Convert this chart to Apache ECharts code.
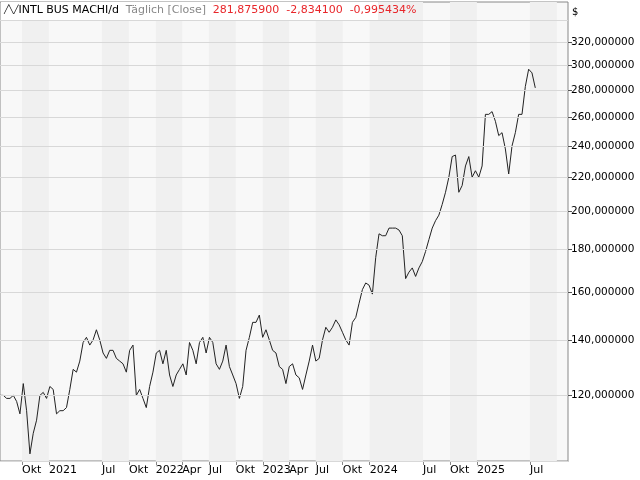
<!DOCTYPE html>
<html>
<head>
<meta charset="utf-8">
<script src="https://cdn.jsdelivr.net/npm/echarts@6/dist/echarts.min.js"></script>
<style>
  html, body { margin: 0; padding: 0; background: #fff; }
  #chart { width: 640px; height: 480px; }
</style>
</head>
<body>
<div id="chart"></div>
<script>
// Closing prices, one reading every ~11.35 days starting 2020-07-18
const START_DATE = '2020-07-18';
const STEP_DAYS = 11.35;
const closes = [
    120, 120, 119, 119, 120, 118, 114, 124, 115, 102,
    108, 112, 120, 121, 119, 123, 122, 114, 115, 115,
    116, 122, 129, 128, 132, 139, 141, 138, 140, 144,
    140, 135, 133, 136, 136, 133, 132, 131, 128, 136,
    138, 120, 122, 119, 116, 123, 128, 135, 136, 131,
    136, 127, 123, 127, 129, 131, 127, 139, 136, 131,
    139, 141, 135, 141, 139, 131, 129, 132, 138, 130,
    127, 124, 119, 123, 136, 141, 147, 147, 150, 141,
    144, 140, 136, 135, 130, 129, 124, 130, 131, 127,
    126, 122, 127, 132, 138, 132, 133, 140, 145, 143,
    145, 148,
    146, 143, 140, 138, 147, 149, 155, 161, 164, 163,
    159, 176, 188, 187, 187, 191, 191, 191, 190, 187,
    166, 169, 171, 167, 171, 174, 179, 185, 191, 195,
    198, 204, 211, 220, 233, 234, 211, 215, 227, 233,
    220, 224, 220, 227, 262, 262, 264, 257, 247, 249,
    238, 222, 240, 249, 262, 262, 283, 297, 294, 282
];

const xTickDates = ['2020-10-01', '2021-01-01', '2021-07-01', '2021-10-01', '2022-01-01', '2022-04-01',
    '2022-07-01', '2022-10-01', '2023-01-01', '2023-04-01', '2023-07-01', '2023-10-01',
    '2024-01-01', '2024-07-01', '2024-10-01', '2025-01-01', '2025-07-01'];
const xTickLabels = ['Okt', '2021', 'Jul', 'Okt', '2022', 'Apr', 'Jul', 'Okt', '2023', 'Apr',
    'Jul', 'Okt', '2024', 'Jul', 'Okt', '2025', 'Jul'];
const bandEndDate = '2025-10-01';
const yLabelValues = [120, 140, 160, 180, 200, 220, 240, 260, 280, 300, 320];
const yGridValues = [100, 120, 140, 160, 180, 200, 220, 240, 260, 280, 300, 320, 340];

const X_MIN = +new Date(START_DATE);
const X_MAX = +new Date('2025-11-08');
const DAY = 86400000;

const lineData = closes.map((v, i) => [X_MIN + i * STEP_DAYS * DAY, v]);
const tickTimes = xTickDates.map(d => +new Date(d));
const labelByTime = {};
tickTimes.forEach((t, i) => { labelByTime[t] = xTickLabels[i]; });

// alternating shaded bands between consecutive date ticks
const bounds = [X_MIN, ...tickTimes, +new Date(bandEndDate), X_MAX];
const bands = [];
for (let i = 1; i < bounds.length - 1; i += 2) {
    bands.push([{ xAxis: bounds[i] }, { xAxis: bounds[i + 1] }]);
}

const FONT = 'Tahoma, "DejaVu Sans", sans-serif';

const chart = echarts.init(document.getElementById('chart'));
chart.setOption({
    animation: false,
    textStyle: { fontFamily: FONT },
    grid: {
        left: 0, right: 72, top: 2, bottom: 19,
        show: true, backgroundColor: '#f8f8f8', borderColor: '#888', borderWidth: 1
    },
    xAxis: {
        type: 'value',
        min: X_MIN,
        max: X_MAX,
        axisLine: { show: true, onZero: false, lineStyle: { color: '#888' } },
        axisTick: { show: true, length: 4, customValues: tickTimes, lineStyle: { color: '#888' } },
        axisLabel: {
            customValues: tickTimes,
            formatter: v => labelByTime[v] || '',
            color: '#000',
            fontSize: 11,
            fontFamily: FONT,
            align: 'left',
            margin: 4,
            showMinLabel: true,
            showMaxLabel: true
        },
        splitLine: { show: false }
    },
    yAxis: {
        type: 'log',
        position: 'right',
        min: 100,
        max: 358,
        axisLine: { show: false },
        axisTick: { show: true, length: 4, customValues: yLabelValues, lineStyle: { color: '#555' } },
        axisLabel: {
            customValues: yLabelValues,
            formatter: v => v.toFixed(6).replace('.', ','),
            color: '#000',
            fontSize: 10.5,
            fontFamily: FONT,
            margin: 3
        },
        splitLine: { show: false }
    },
    series: [
        {
            type: 'line',
            data: lineData,
            showSymbol: false,
            lineStyle: { color: '#222', width: 1 },
            markArea: {
                silent: true,
                itemStyle: { color: '#f0f0f0' },
                data: bands
            },
            markLine: {
                silent: true,
                symbol: 'none',
                label: { show: false },
                lineStyle: { color: '#d8d8d8', width: 1, type: 'solid' },
                data: yGridValues.map(v => ({ yAxis: v }))
            },
            z: 3
        }
    ],
    graphic: [
        {
            type: 'rect', left: 1, top: 2,
            shape: { width: 377, height: 18 },
            style: { fill: '#fff' }, z: 10
        },
        {
            type: 'text', left: 4, top: 4, z: 11,
            style: {
                text: '{b|╱╲╱}{k|INTL BUS MACHI/d}  {g|Täglich [Close]}  {r|281,875900  -2,834100  -0,995434%}',
                rich: {
                    b: { fontSize: 8, fill: '#000', fontFamily: FONT },
                    k: { fontSize: 11, fill: '#000', fontFamily: FONT },
                    g: { fontSize: 11, fill: '#888', fontFamily: FONT },
                    r: { fontSize: 11, fill: '#e8262a', fontFamily: FONT }
                }
            }
        },
        {
            type: 'text', left: 572, top: 7,
            style: { text: '$', fontSize: 10, fill: '#000', fontFamily: FONT }
        }
    ]
});
</script>
</body>
</html>
